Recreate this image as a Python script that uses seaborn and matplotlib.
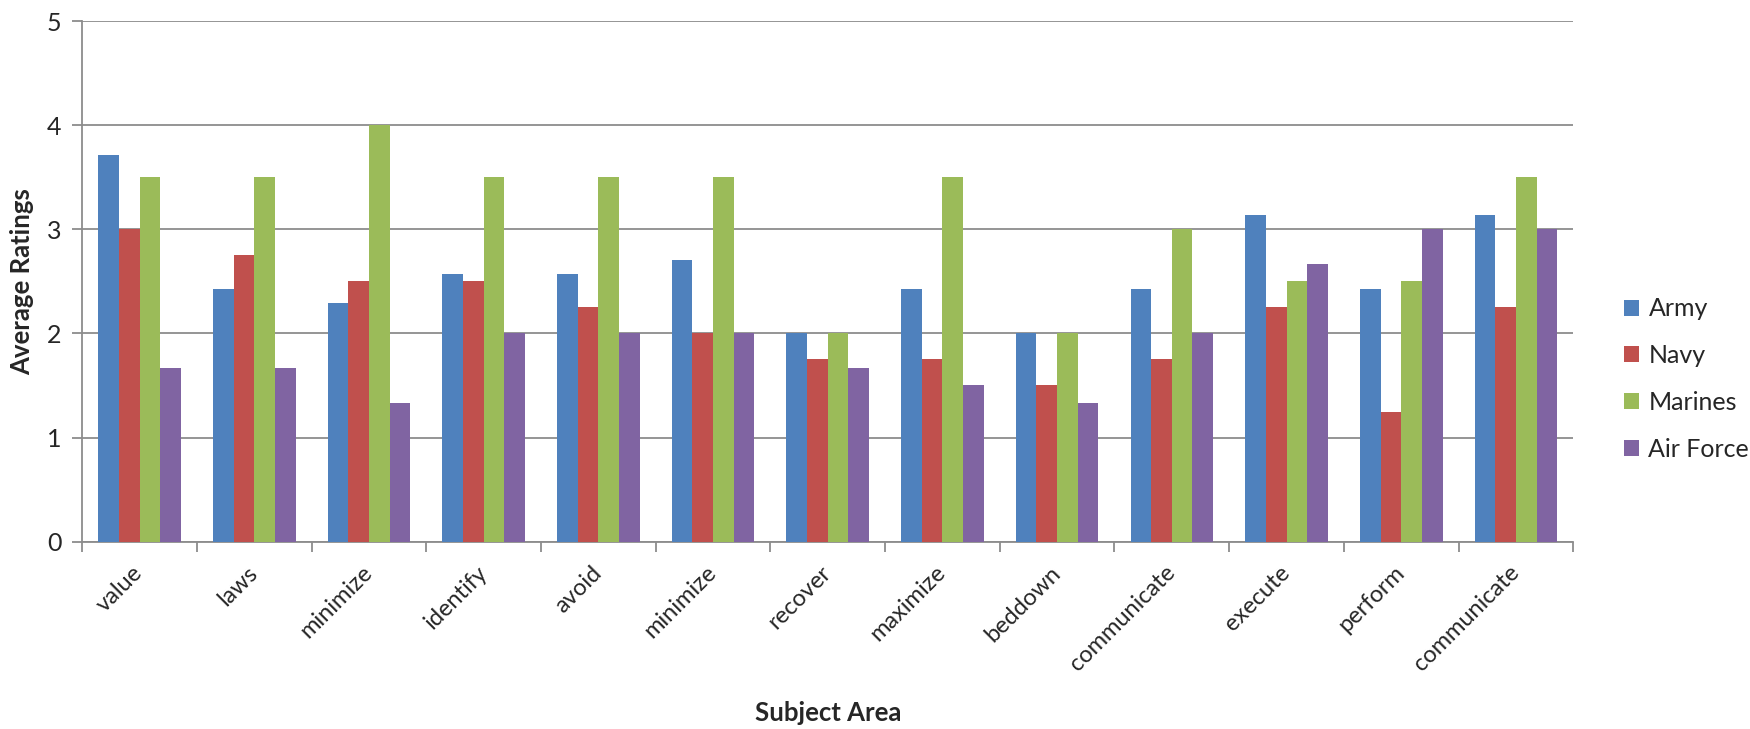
import pandas as pd
import matplotlib.pyplot as plt
import matplotlib.transforms as mtransforms
import seaborn as sns

# Datos
subjects = ["value", "laws", "minimize", "identify", "avoid", "minimize", "recover",
            "maximize", "beddown", "communicate", "execute", "perform", "communicate"]
army = [3.71, 2.43, 2.29, 2.57, 2.57, 2.71, 2.0, 2.43, 2.0, 2.43, 3.14, 2.43, 3.14]
navy = [3.0, 2.75, 2.5, 2.5, 2.25, 2.0, 1.75, 1.75, 1.5, 1.75, 2.25, 1.25, 2.25]
marines = [3.5, 3.5, 4.0, 3.5, 3.5, 3.5, 2.0, 3.5, 2.0, 3.0, 2.5, 2.5, 3.5]
air_force = [1.67, 1.67, 1.33, 2.0, 2.0, 2.0, 1.67, 1.5, 1.33, 2.0, 2.67, 3.0, 3.0]

branches = ["Army", "Navy", "Marines", "Air Force"]
colors = ["#4F81BD", "#C0504D", "#9BBB59", "#8064A2"]

# Posición única por categoría (hay etiquetas repetidas)
rows = []
for i, s in enumerate(subjects):
    for b, vals in zip(branches, [army, navy, marines, air_force]):
        rows.append({"pos": i, "Branch": b, "Rating": vals[i]})
df = pd.DataFrame(rows)

sns.set_style("white")
plt.rcParams["font.family"] = ["Lato", "DejaVu Sans"]

fig = plt.figure(figsize=(17.5, 7.29), dpi=100)
ax = fig.add_axes([0.047, 0.257, 0.852, 0.714])

sns.barplot(data=df, x="pos", y="Rating", hue="Branch", hue_order=branches,
            palette=colors, width=0.72, saturation=1, linewidth=0, ax=ax, zorder=3)

ax.set_ylim(0, 5)
ax.set_xlim(-0.5, len(subjects) - 0.5)
ax.set_yticks(range(0, 6))
ax.yaxis.grid(True, color="#8c8c8c", linewidth=1.3, zorder=0)
ax.set_axisbelow(True)

ax.set_xticks(range(len(subjects)))
ax.set_xticklabels(subjects, rotation=45, ha="right", va="center",
                   rotation_mode="anchor", fontsize=17)
offset = mtransforms.ScaledTranslation(4 / 72, 0, fig.dpi_scale_trans)
for lbl in ax.get_xticklabels():
    lbl.set_transform(lbl.get_transform() + offset)
ax.set_xticks([i - 0.5 for i in range(len(subjects) + 1)], minor=True)
ax.tick_params(axis="x", which="major", length=0, pad=20)
ax.tick_params(axis="x", which="minor", length=7, width=1.3, color="#8c8c8c", direction="out", bottom=True)
ax.tick_params(axis="y", length=7, width=1.3, color="#8c8c8c", direction="out", left=True,
               labelsize=18, pad=8)

for sp in ["top", "right"]:
    ax.spines[sp].set_visible(False)
for sp in ["left", "bottom"]:
    ax.spines[sp].set_color("#8c8c8c")
    ax.spines[sp].set_linewidth(1.3)

ax.set_xlabel("Subject Area", fontsize=18.5, fontweight="bold", va="center")
ax.xaxis.set_label_coords(0.5, -0.33)
ax.set_ylabel("Average Ratings", fontsize=18.5, fontweight="bold", va="center")
ax.yaxis.set_label_coords(-0.040, 0.5)

ax.get_legend().remove()
handles, labels = ax.get_legend_handles_labels()
fig.legend(handles, labels, loc="center left", bbox_to_anchor=(0.922, 0.48), frameon=False,
           fontsize=18, handlelength=0.6, handleheight=0.6, handletextpad=0.4,
           labelspacing=0.95, borderaxespad=0)

fig.savefig("out.png", dpi=100)
